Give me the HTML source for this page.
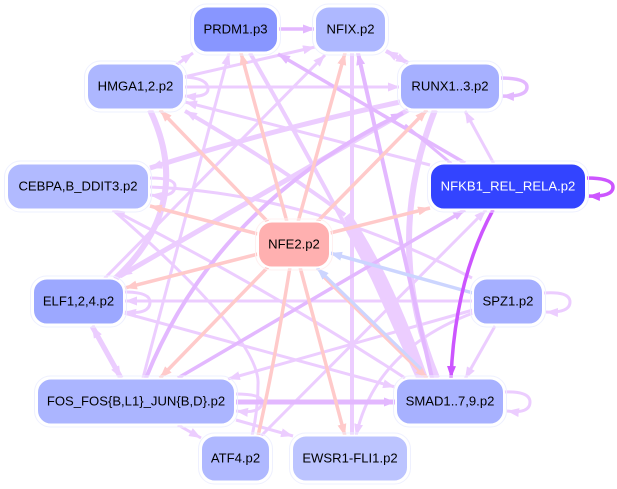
<!DOCTYPE html>
<html>
<head>
<meta charset="utf-8">
<style>
html,body{margin:0;padding:0;background:#fff;width:617px;height:489px;overflow:hidden}
svg{display:block}
text{font-family:"Liberation Sans",sans-serif;font-size:13.1px;text-anchor:middle;fill:#000}
.l{fill:none;stroke:#eccdff}
.m{fill:none;stroke:#e3b8ff}
.p{fill:none;stroke:#ffcaca}
.b{fill:none;stroke:#ccd5ff}
.s{fill:none;stroke:#cc55ff}
.n{stroke:#fff;stroke-width:2}
.h{fill:none;stroke:#eef0ff;stroke-width:1}
</style>
</head>
<body>
<svg width="617" height="489" viewBox="0 0 617 489" xmlns="http://www.w3.org/2000/svg">
<defs>
<marker id="al" markerUnits="userSpaceOnUse" markerWidth="13" markerHeight="11" refX="12" refY="4.500" orient="auto"><path d="M0 0L12 4.500L0 9z" fill="#eccdff"/></marker>
<marker id="am" markerUnits="userSpaceOnUse" markerWidth="13" markerHeight="11" refX="12" refY="4.500" orient="auto"><path d="M0 0L12 4.500L0 9z" fill="#e3b8ff"/></marker>
<marker id="ap" markerUnits="userSpaceOnUse" markerWidth="13" markerHeight="11" refX="12" refY="4.500" orient="auto"><path d="M0 0L12 4.500L0 9z" fill="#ffcaca"/></marker>
<marker id="ab" markerUnits="userSpaceOnUse" markerWidth="13" markerHeight="11" refX="12" refY="4.500" orient="auto"><path d="M0 0L12 4.500L0 9z" fill="#ccd5ff"/></marker>
<marker id="as" markerUnits="userSpaceOnUse" markerWidth="13" markerHeight="11" refX="12" refY="4.500" orient="auto"><path d="M0 0L12 4.500L0 9z" fill="#cc55ff"/></marker>
</defs>

<!-- light edges -->
<g>
<path class="l" stroke-width="3" d="M176 65L193 53" marker-end="url(#al)"/>
<path class="l" stroke-width="3" d="M184 77Q250 62 315 47" marker-end="url(#al)"/>
<path class="l" stroke-width="3" d="M184 87L400 87" marker-end="url(#al)"/>
<path class="l" stroke-width="3" d="M430 165L185 102" marker-end="url(#al)"/>
<path class="l" stroke-width="4" d="M345 215Q270 160 185 111" marker-end="url(#al)"/>
<path d="M344 218L350 213Q392 275 428 378L416 378Q385 310 344 218z" fill="#eccdff"/>
<path class="l" stroke-width="5" d="M400 102Q270 130 150 168" marker-end="url(#al)"/>
<path class="l" stroke-width="5" d="M408 110L120 276" marker-end="url(#al)"/>
<path class="l" stroke-width="3" d="M150 187Q309 193 472 278"/>
<path class="l" stroke-width="3" d="M405 378Q270 290 113 210" marker-end="url(#al)"/>
<path class="l" stroke-width="3" d="M143 378L229 53" marker-end="url(#al)"/>
<path class="l" stroke-width="3" d="M104 279L325 55" marker-end="url(#al)"/>
<path class="l" stroke-width="4" d="M352 53L352 436"/>
<path class="l" stroke-width="4" d="M386 51L408 63" marker-end="url(#al)"/>
<path class="l" stroke-width="4" d="M408 63L386 51" marker-end="url(#al)"/>
<path class="l" stroke-width="3" d="M494 164L465 111" marker-end="url(#al)"/>
<path class="l" stroke-width="3" d="M260 437L486 210" marker-end="url(#al)"/>
<path class="l" stroke-width="3" d="M495 326L465 379" marker-end="url(#al)"/>
<path class="l" stroke-width="3" d="M473 301L125 301" marker-end="url(#al)"/>
<path class="l" stroke-width="3" d="M473 310L228 379" marker-end="url(#al)"/>
<path class="l" stroke-width="3" d="M473 313Q375 350 356 436" marker-end="url(#al)"/>
<path class="l" stroke-width="3" d="M124 313L395 387" marker-end="url(#al)"/>
<path class="l" stroke-width="3" d="M178 425L201 438" marker-end="url(#al)"/>
<path class="l" stroke-width="3" d="M236 420L293 436" marker-end="url(#al)"/>
<path class="l" stroke-width="3" d="M113 210Q262 340 258 385Q258 410 252 436"/>
<path class="l" stroke-width="5" d="M92 326L121 378" marker-end="url(#al)"/>
<path class="l" stroke-width="5" d="M121 378L92 326" marker-end="url(#al)"/>
<path class="l" stroke-width="6" d="M150 110Q195 205 115 279"/>
<path class="l" stroke-width="6" d="M435 110Q382 244 437 378"/>
<path class="l" stroke-width="4" d="M250 53Q340 210 424 378"/>
<path class="l" stroke-width="3" d="M184 77Q208 78 208 89Q208 98 184 96" marker-end="url(#al)"/>
<path class="l" stroke-width="3" d="M150 178Q175 178 175 186Q175 198 150 195" marker-end="url(#al)"/>
<path class="l" stroke-width="3" d="M124 292Q150 292 150 302Q150 315 124 312" marker-end="url(#al)"/>
<path class="l" stroke-width="3" d="M236 394Q262 394 262 402Q262 414 236 411" marker-end="url(#al)"/>
<path class="l" stroke-width="3" d="M543 293Q570 291 570 302Q570 313 546 312" marker-end="url(#al)"/>
<path class="l" stroke-width="3" d="M504 392Q530 391 530 402Q530 414 507 411" marker-end="url(#al)"/>
</g>

<!-- medium edges -->
<g>
<path class="m" stroke-width="3.5" d="M278 29L315 29" marker-end="url(#am)"/>
<path class="m" stroke-width="3.5" d="M465 163L278 54" marker-end="url(#am)"/>
<path class="m" stroke-width="3" d="M453 165L405 125"/>
<path class="m" stroke-width="4" d="M432 378L358 53" marker-end="url(#am)"/>
<path class="m" stroke-width="3.5" d="M178 378L465 210" marker-end="url(#am)"/>
<path class="m" stroke-width="4" d="M146 378Q216 204 403 113" marker-end="url(#am)"/>
<path class="m" stroke-width="5" d="M235 402L396 402" marker-end="url(#am)"/>
<path class="m" stroke-width="3.5" d="M500 78Q527 78 527 87Q527 97 502 96" marker-end="url(#am)"/>
</g>

<!-- pink edges from NFE2 -->
<g>
<path class="p" stroke-width="3.5" d="M287 222L241 53" marker-end="url(#ap)"/>
<path class="p" stroke-width="3.5" d="M298 222L345 53" marker-end="url(#ap)"/>
<path class="p" stroke-width="3.5" d="M268 222L160 110" marker-end="url(#ap)"/>
<path class="p" stroke-width="3.5" d="M317 222L427 110" marker-end="url(#ap)"/>
<path class="p" stroke-width="3.5" d="M258 234L150 206" marker-end="url(#ap)"/>
<path class="p" stroke-width="3.5" d="M330 233L430 208" marker-end="url(#ap)"/>
<path class="p" stroke-width="3.5" d="M258 254L125 288" marker-end="url(#ap)"/>
<path class="p" stroke-width="3.5" d="M268 267L160 378" marker-end="url(#ap)"/>
<path class="p" stroke-width="3.5" d="M290 267Q275 360 258 436"/>
<path class="p" stroke-width="3.5" d="M300 267L345 436" marker-end="url(#ap)"/>
<path class="p" stroke-width="3.5" d="M322 275L427 378" marker-end="url(#ap)"/>
</g>

<!-- blue edges -->
<g>
<path class="b" stroke-width="3.5" d="M473 293L330 253" marker-end="url(#ab)"/>
<path class="b" stroke-width="3" d="M421 369L317 268" marker-end="url(#ab)"/>
</g>

<!-- strong edges -->
<g>
<path class="s" stroke-width="3.5" d="M493 210Q455 280 451 378" marker-end="url(#as)"/>
<path class="s" stroke-width="3.5" d="M586 178Q613 178 613 187Q613 197 588 196" marker-end="url(#as)"/>
</g>

<!-- nodes -->
<rect class="h" x="190.500" y="4" width="90" height="51" rx="16"/>
<rect class="n" x="193" y="6.500" width="85" height="46" rx="14" fill="#8896ff"/>
<text x="235.500" y="33.500">PRDM1.p3</text>

<rect class="h" x="312.500" y="4" width="76" height="51" rx="16"/>
<rect class="n" x="315" y="6.500" width="71" height="46" rx="14" fill="#aeb8ff"/>
<text x="350.500" y="33.500">NFIX.p2</text>

<rect class="h" x="84.500" y="61" width="102" height="51" rx="16"/>
<rect class="n" x="87" y="63.500" width="97" height="46" rx="14" fill="#adb7ff"/>
<text x="135.500" y="90.500">HMGA1,2.p2</text>

<rect class="h" x="397.500" y="61" width="105" height="51" rx="16"/>
<rect class="n" x="400" y="63.500" width="100" height="46" rx="14" fill="#a6b0ff"/>
<text x="450" y="90.500">RUNX1..3.p2</text>

<rect class="h" x="4.500" y="161" width="147" height="51" rx="16"/>
<rect class="n" x="7" y="163.500" width="142" height="46" rx="14" fill="#b1baff"/>
<text x="78" y="190.500">CEBPA,B_DDIT3.p2</text>

<rect class="h" x="427.500" y="161" width="161" height="51" rx="16"/>
<rect class="n" x="430" y="163.500" width="156" height="46" rx="14" fill="#3344ff"/>
<text x="508" y="190.500" style="fill:#fff">NFKB1_REL_RELA.p2</text>

<rect class="h" x="255.500" y="219" width="77" height="51" rx="16" style="stroke:#fff0f0"/>
<rect class="n" x="258" y="221.500" width="72" height="46" rx="14" fill="#ffb0b0"/>
<text x="294" y="248.500">NFE2.p2</text>

<rect class="h" x="30.500" y="276" width="96" height="51" rx="16"/>
<rect class="n" x="33" y="278.500" width="91" height="46" rx="14" fill="#9ca8ff"/>
<text x="78.500" y="305.500">ELF1,2,4.p2</text>

<rect class="h" x="470.500" y="276" width="75" height="51" rx="16"/>
<rect class="n" x="473" y="278.500" width="70" height="46" rx="14" fill="#a5afff"/>
<text x="508" y="305.500">SPZ1.p2</text>

<rect class="h" x="34.500" y="376" width="203" height="51" rx="16"/>
<rect class="n" x="37" y="378.500" width="198" height="46" rx="14" fill="#abb5ff"/>
<text x="136" y="405.500">FOS_FOS{B,L1}_JUN{B,D}.p2</text>

<rect class="h" x="393.500" y="376" width="113" height="51" rx="16"/>
<rect class="n" x="396" y="378.500" width="108" height="46" rx="14" fill="#a7b1ff"/>
<text x="450" y="405.500">SMAD1..7,9.p2</text>

<rect class="h" x="198.500" y="433" width="74" height="51" rx="16"/>
<rect class="n" x="201" y="435.500" width="69" height="46" rx="14" fill="#afb8ff"/>
<text x="235.500" y="462.500">ATF4.p2</text>

<rect class="h" x="289.500" y="433" width="121" height="51" rx="16"/>
<rect class="n" x="292" y="435.500" width="116" height="46" rx="14" fill="#bcc4ff"/>
<text x="350" y="462.500">EWSR1-FLI1.p2</text>
</svg>
</body>
</html>
